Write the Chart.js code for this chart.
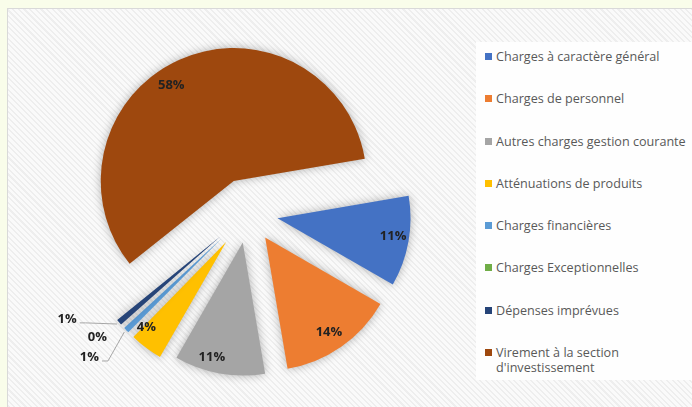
<!DOCTYPE html>
<html>
<head>
<meta charset="utf-8">
<script src="https://cdn.jsdelivr.net/npm/chart.js@4.4.1/dist/chart.umd.min.js"></script>
<style>
  html, body { margin: 0; padding: 0; }
  body {
    width: 692px; height: 407px; position: relative; overflow: hidden;
    background: #f9fdea; font-family: 'Open Sans', sans-serif;
  }
  #frame {
    position: absolute; left: 7px; top: 8px; right: 0; bottom: 0;
    border-top: 1px solid #d9d9d9; border-left: 1px solid #d9d9d9;
    background: repeating-linear-gradient(45deg, #eeeeee 0px, #eeeeee 1.5px, #fafafa 1.5px, #fafafa 4px);
  }
  #legend {
    position: absolute; left: 476px; top: 42px; width: 216px; height: 338px;
    background: #fefefe; box-sizing: border-box; padding-top: 7px;
  }
  .item { display: flex; align-items: flex-start; height: 42.3px; font-size: 12.6px; line-height: 15px; color: #595959; }
  .box { width: 7px; height: 7px; margin: 4px 4px 0 9px; flex: none; }
  #pie { position: absolute; left: 0; top: 0; }
</style>
</head>
<body>
<div id="frame"></div>
<div id="legend"></div>
<canvas id="pie" width="692" height="407"></canvas>
<script>
const labels = [
    'Charges à caractère général',
    'Charges de personnel',
    'Autres charges gestion courante',
    'Atténuations de produits',
    'Charges financières',
    'Charges Exceptionnelles',
    'Dépenses imprévues',
    ['Virement à la section', "d'investissement"],
];
const shares = [11, 14, 11, 4, 1, 0, 1, 58];
const colors = ['#4472C4', '#ED7D31', '#A5A5A5', '#FFC000', '#5B9BD5', '#70AD47', '#264478', '#9E480E'];

// how far each slice is pulled out (px), and where its % label sits
const explodePx = [30, 30, 30, 36, 36, 36, 36, 35];
const labelDist = [0.88, 0.86, 0.89, 0.88, 1.34, 1.20, 1.31, 0.86];
const labelTurn = [-1, 1, 5, 6, 2, 3, 12, -9];
const leader = [false, false, false, false, true, false, true, false];

// html legend
const legendEl = document.getElementById('legend');
labels.forEach((label, i) => {
    const row = document.createElement('div');
    row.className = 'item';
    const box = document.createElement('span');
    box.className = 'box';
    box.style.background = colors[i];
    const txt = document.createElement('span');
    txt.innerHTML = [].concat(label).join('<br>');
    row.appendChild(box);
    row.appendChild(txt);
    legendEl.appendChild(row);
});

// keep exploded slices at the same radius (chart.js grows them otherwise)
const explodePlugin = {
    id: 'explode',
    afterDatasetsUpdate(chart) {
        chart.getDatasetMeta(0).data.forEach((arc) => {
            if (!arc.circumference) return;
            const off = (arc.options.offset || 0) / 4;
            const grow = off * (1 - Math.sin(Math.min(Math.PI, arc.circumference)));
            const r = arc.outerRadius;
            const alpha = arc.endAngle - arc.startAngle;
            const beta = Math.max(0.001, alpha * r - grow / Math.PI) / r;
            const widen = (alpha - beta) / 2;
            arc.outerRadius = r - grow;
            arc.startAngle -= widen;
            arc.endAngle += widen;
        });
    },
    beforeDatasetsDraw(chart) {
        const ctx = chart.ctx;
        ctx.save();
        ctx.shadowColor = 'rgba(0,0,0,0.3)';
        ctx.shadowBlur = 10;
    },
    afterDatasetsDraw(chart) {
        const ctx = chart.ctx;
        ctx.restore();
        const total = shares.reduce((a, b) => a + b, 0);
        const R = chart.options.radius;
        ctx.save();
        ctx.font = 'bold 13px "Open Sans"';
        ctx.fillStyle = '#222';
        ctx.textAlign = 'center';
        ctx.textBaseline = 'middle';
        ctx.strokeStyle = '#a6a6a6';
        ctx.lineWidth = 1;
        chart.getDatasetMeta(0).data.forEach((arc, i) => {
            const half = (arc.startAngle + arc.endAngle) / 2;
            const t = (arc.options.offset || 0) / 4;
            const ax = arc.x + Math.cos(half) * t;
            const ay = arc.y + Math.sin(half) * t;
            const a = half + labelTurn[i] * Math.PI / 180;
            const lx = ax + Math.cos(a) * R * labelDist[i];
            const ly = ay + Math.sin(a) * R * labelDist[i];
            const text = Math.round(shares[i] / total * 100) + '%';
            if (leader[i]) {
                const w = ctx.measureText(text).width;
                const sx = lx + w / 2 + 3;
                const sy = ly + 4;
                ctx.beginPath();
                ctx.moveTo(sx, sy);
                ctx.lineTo(sx + 6, sy);
                ctx.lineTo(ax + Math.cos(half) * R * 1.02, ay + Math.sin(half) * R * 1.02);
                ctx.stroke();
            }
            ctx.fillText(text, lx, ly);
        });
        ctx.restore();
    },
};

const ctx = document.getElementById('pie').getContext('2d');
new Chart(ctx, {
    type: 'pie',
    data: {
        labels: labels,
        datasets: [
            {
                data: shares,
                backgroundColor: colors,
                borderWidth: 0,
                offset: explodePx.map((p) => p * 4),
            },
        ],
    },
    options: {
        responsive: false,
        animation: false,
        events: [],
        rotation: 80.3,
        radius: 133,
        layout: { padding: { left: 0, right: 196, top: 19, bottom: 0 } },
        plugins: {
            legend: { display: false },
            tooltip: { enabled: false },
        },
    },
    plugins: [explodePlugin],
});
</script>
</body>
</html>
